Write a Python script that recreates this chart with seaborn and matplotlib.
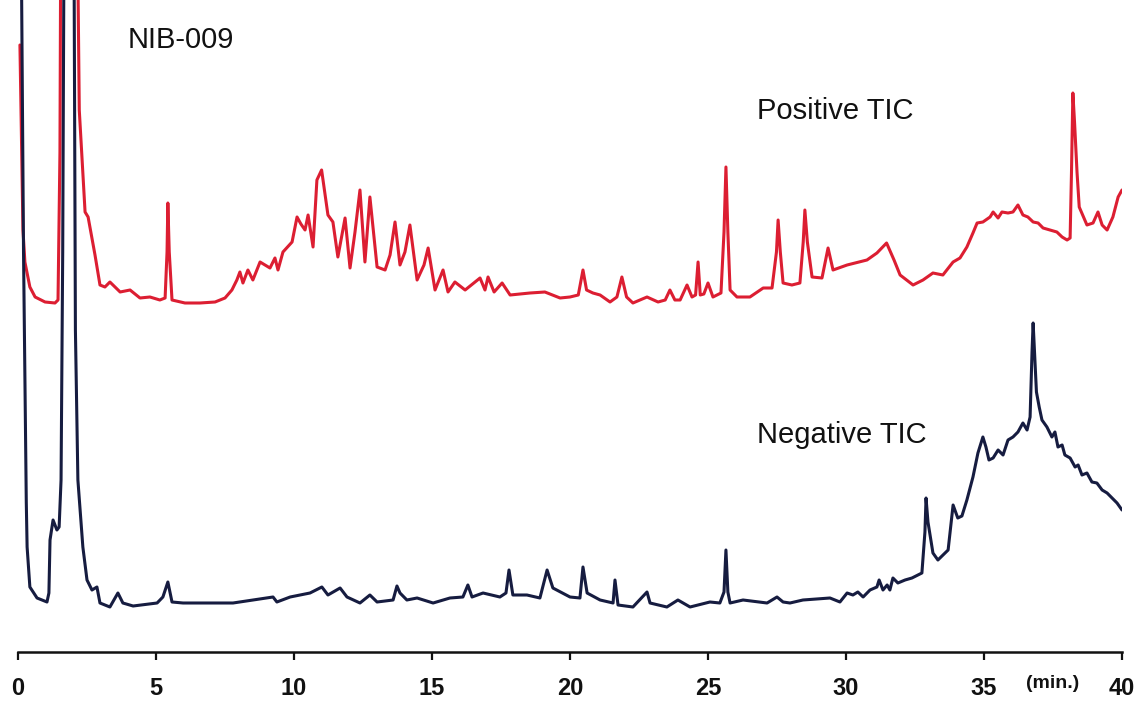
import matplotlib
matplotlib.use("Agg")
import matplotlib.pyplot as plt
import seaborn as sns
import pandas as pd

# Positive TIC: (retention time in min, relative intensity)
pos_points = [
    (0.07, 607), (0.18, 422), (0.25, 390), (0.43, 365), (0.62, 355), (0.98, 350), (1.34, 349),
    (1.45, 352), (1.52, 500), (1.56, 800), (1.62, 950), (1.9, 950), (2.14, 800), (2.18, 650),
    (2.22, 542), (2.43, 440), (2.54, 435), (2.79, 397), (2.97, 367), (3.15, 365), (3.33, 370),
    (3.7, 360), (4.06, 362), (4.42, 354), (4.78, 355), (5.14, 352), (5.33, 354), (5.4, 400),
    (5.43, 449), (5.48, 400), (5.58, 352), (6.05, 349), (6.59, 349), (7.14, 350), (7.5, 354),
    (7.75, 362), (7.93, 372), (8.04, 380), (8.15, 369), (8.33, 382), (8.51, 372), (8.77, 390),
    (8.95, 387), (9.13, 384), (9.31, 394), (9.42, 382), (9.6, 400), (9.93, 410), (10.11, 435),
    (10.25, 428), (10.4, 422), (10.51, 437), (10.69, 405), (10.83, 472), (11.0, 482),
    (11.23, 437), (11.41, 430), (11.59, 395), (11.85, 434), (12.03, 384), (12.21, 420),
    (12.39, 462), (12.57, 390), (12.75, 455), (13.01, 385), (13.3, 382), (13.48, 397),
    (13.66, 430), (13.84, 387), (14.02, 400), (14.2, 427), (14.46, 372), (14.71, 387),
    (14.86, 404), (15.11, 362), (15.4, 382), (15.58, 360), (15.83, 370), (16.2, 362),
    (16.74, 374), (16.92, 362), (17.03, 375), (17.25, 360), (17.54, 369), (17.83, 357),
    (18.55, 359), (19.09, 360), (19.64, 354), (20.0, 355), (20.3, 357), (20.47, 382),
    (20.6, 362), (20.83, 359), (21.09, 357), (21.45, 350), (21.7, 355), (21.88, 375),
    (22.05, 355), (22.28, 349), (22.79, 355), (23.19, 350), (23.45, 352), (23.62, 362),
    (23.8, 352), (23.99, 352), (24.24, 367), (24.42, 355), (24.55, 357), (24.64, 390),
    (24.72, 357), (24.85, 358), (25.0, 369), (25.18, 355), (25.47, 359), (25.58, 420),
    (25.65, 485), (25.72, 420), (25.8, 362), (26.05, 355), (26.52, 355), (27.0, 364),
    (27.32, 364), (27.48, 400), (27.54, 432), (27.62, 400), (27.72, 369), (28.04, 367),
    (28.33, 369), (28.45, 410), (28.51, 442), (28.6, 410), (28.77, 375), (29.13, 374),
    (29.35, 404), (29.53, 382), (30.04, 387), (30.76, 392), (31.12, 399), (31.47, 409),
    (31.74, 392), (31.96, 377), (32.43, 367), (32.79, 372), (33.15, 379), (33.51, 377),
    (33.88, 390), (34.13, 394), (34.38, 405), (34.6, 419), (34.75, 429), (34.96, 430),
    (35.22, 435), (35.33, 440), (35.51, 434), (35.65, 440), (35.87, 439), (36.05, 440),
    (36.23, 447), (36.41, 437), (36.59, 435), (36.78, 430), (36.96, 429), (37.14, 424),
    (37.39, 422), (37.64, 420), (37.83, 415), (38.01, 412), (38.12, 414), (38.17, 480),
    (38.22, 559), (38.28, 530), (38.37, 480), (38.45, 445), (38.73, 427), (38.95, 429),
    (39.13, 440), (39.28, 427), (39.46, 422), (39.67, 435), (39.86, 455), (40.0, 462),
]

# Negative TIC: (retention time in min, relative intensity)
neg_points = [
    (0.12, 700), (0.2, 400), (0.3, 150), (0.33, 105), (0.43, 65), (0.69, 54), (1.05, 50),
    (1.12, 59), (1.16, 112), (1.27, 132), (1.41, 122), (1.49, 125), (1.56, 172), (1.62, 400),
    (1.68, 800), (1.95, 800), (2.03, 700), (2.08, 322), (2.17, 172), (2.35, 105), (2.5, 72),
    (2.68, 62), (2.86, 65), (2.97, 49), (3.33, 45), (3.62, 59), (3.8, 49), (4.17, 46),
    (5.04, 49), (5.25, 55), (5.43, 70), (5.58, 50), (5.98, 49), (7.79, 49), (9.24, 55),
    (9.38, 50), (9.86, 55), (10.58, 59), (11.01, 65), (11.23, 57), (11.67, 64), (11.92, 55),
    (12.39, 49), (12.75, 57), (13.01, 50), (13.59, 52), (13.73, 66), (13.84, 59), (14.09, 52),
    (14.46, 54), (15.04, 49), (15.65, 54), (16.12, 55), (16.3, 67), (16.45, 55), (16.85, 59),
    (17.46, 55), (17.68, 59), (17.79, 82), (17.93, 57), (18.44, 57), (18.91, 54), (19.17, 82),
    (19.38, 64), (20.0, 55), (20.36, 54), (20.47, 85), (20.62, 59), (21.09, 52), (21.56, 49),
    (21.63, 72), (21.74, 47), (22.28, 45), (22.79, 60), (22.9, 49), (23.51, 45), (23.91, 52),
    (24.35, 45), (25.07, 50), (25.43, 49), (25.58, 60), (25.65, 102), (25.72, 60), (25.8, 49),
    (26.27, 52), (27.14, 49), (27.5, 55), (27.72, 50), (27.97, 49), (28.44, 52), (29.42, 54),
    (29.78, 50), (30.04, 59), (30.25, 57), (30.43, 60), (30.62, 55), (30.87, 62), (31.12, 65),
    (31.2, 72), (31.34, 62), (31.49, 67), (31.59, 62), (31.7, 74), (31.88, 69), (32.14, 72),
    (32.39, 74), (32.61, 77), (32.75, 79), (32.86, 120), (32.9, 154), (32.97, 130),
    (33.15, 99), (33.33, 92), (33.7, 102), (33.88, 147), (34.05, 134), (34.2, 136),
    (34.38, 152), (34.6, 175), (34.78, 199), (34.96, 215), (35.07, 205), (35.18, 192),
    (35.33, 194), (35.51, 202), (35.69, 197), (35.87, 212), (36.05, 215), (36.23, 220),
    (36.41, 229), (36.56, 222), (36.67, 235), (36.74, 300), (36.78, 329), (36.83, 300),
    (36.9, 260), (37.0, 245), (37.1, 232), (37.28, 225), (37.46, 215), (37.57, 220),
    (37.68, 205), (37.83, 207), (37.93, 197), (38.12, 194), (38.3, 185), (38.41, 187),
    (38.55, 177), (38.73, 179), (38.91, 170), (39.09, 169), (39.28, 162), (39.46, 159),
    (39.64, 154), (39.82, 149), (40.0, 142),
]

x_ticks = [0, 5, 10, 15, 20, 25, 30, 35, 40]
x_tick_labels = ["0", "5", "10", "15", "20", "25", "30", "35", "40"]

pos_df = pd.DataFrame(pos_points, columns=["time", "intensity"])
neg_df = pd.DataFrame(neg_points, columns=["time", "intensity"])

sns.set_theme(style="white")
plt.rcParams["font.family"] = ["Liberation Sans", "DejaVu Sans"]

fig = plt.figure(figsize=(11.42, 7.01), dpi=100)
ax = fig.add_axes([18 / 1142, 1 - 652 / 701, (1122 - 18) / 1142, 652 / 701])

red = "#dc1e32"
navy = "#161c40"
sns.lineplot(data=pos_df, x="time", y="intensity", ax=ax, color=red, linewidth=2.2,
             estimator=None, sort=False)
sns.lineplot(data=neg_df, x="time", y="intensity", ax=ax, color=navy, linewidth=2.2,
             estimator=None, sort=False)

ax.set_xlim(0, 40)
ax.set_ylim(0, 652)
ax.set_xlabel("")
ax.set_ylabel("")
ax.set_yticks([])
ax.set_xticks(x_ticks)
ax.set_xticklabels(x_tick_labels, fontsize=17, fontweight="bold", color="#111111")
ax.tick_params(axis="x", direction="out", length=6, width=1.6, color="#111111", pad=12,
               bottom=True)
for side in ["top", "right", "left"]:
    ax.spines[side].set_visible(False)
ax.spines["bottom"].set_linewidth(1.8)
ax.spines["bottom"].set_color("#111111")
ax.set_facecolor("white")
fig.patch.set_facecolor("white")

ax.text(3.99, 612, "NIB-009", fontsize=21, va="center", ha="left", color="#111111")
ax.text(26.78, 541, "Positive TIC", fontsize=21, va="center", ha="left", color="#111111")
ax.text(26.78, 217, "Negative TIC", fontsize=21, va="center", ha="left", color="#111111")
ax.text(37.5, -31, "(min.)", fontsize=14, fontweight="bold", va="center", ha="center",
        color="#111111", clip_on=False)

fig.savefig("out.png", dpi=100, facecolor="white")
